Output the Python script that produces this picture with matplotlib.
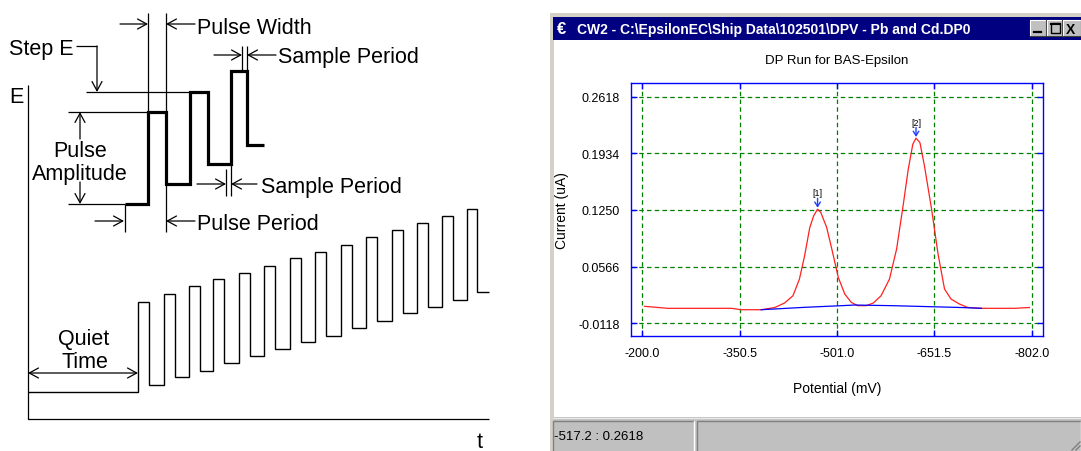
import matplotlib
matplotlib.use("Agg")
import matplotlib.pyplot as plt
from matplotlib.patches import Rectangle

plt.rcParams["font.family"] = ["Liberation Sans", "DejaVu Sans"]

# ---- left panel: DPV waveform diagram (picture units, E grows upwards = smaller y) ----
quiet_level = 393
pulse_start = [138, 164, 189, 213, 239, 264, 290, 315, 341, 366, 392, 417, 442, 467]
pulse_end = [149, 175, 200, 224, 250, 275, 301, 326, 352, 377, 403, 428, 453, 477]
pulse_high = [303, 295, 287, 280, 274, 267, 259, 253, 246, 238, 231, 224, 217, 210]
pulse_low = [386, 378, 372, 364, 357, 350, 343, 337, 329, 322, 314, 308, 301, 293]

detail_edges = [125, 148, 166, 190, 208, 231, 247, 264]
detail_levels = [205, 113, 185, 93, 165, 72, 146]

# ---- right panel: DP run data ----
potential_mv = [-204, -240, -338, -353, -384, -405, -420, -433, -443, -451, -459,
                -465, -471, -476, -485, -493, -503, -513, -523, -533, -546, -557,
                -569, -582, -593, -603, -611, -618, -623, -629, -636, -647, -657,
                -667, -677, -690, -703, -724, -775, -798]
current_ua = [0.0084, 0.0060, 0.0060, 0.0043, 0.0043, 0.0070, 0.0124, 0.0212,
              0.0414, 0.0696, 0.1039, 0.1180, 0.1260, 0.1220, 0.1040, 0.0777,
              0.0434, 0.0233, 0.0132, 0.0092, 0.0092, 0.0124, 0.0212, 0.0414,
              0.0777, 0.1300, 0.1744, 0.2046, 0.2119, 0.2066, 0.1784, 0.1260,
              0.0716, 0.0293, 0.0172, 0.0112, 0.0070, 0.0060, 0.0060, 0.0070]
base_mv = [-384, -451, -508, -528, -587, -692, -724]
base_ua = [0.0043, 0.0072, 0.0092, 0.0100, 0.0092, 0.0070, 0.0060]
peak_mv = [-471, -623]
peak_ua = [0.1262, 0.2119]
peak_labels = ["[1]", "[2]"]
x_ticks = [-200.0, -350.5, -501.0, -651.5, -802.0]
y_ticks = [0.2618, 0.1934, 0.1250, 0.0566, -0.0118]

fig = plt.figure(figsize=(10.81, 4.52), dpi=100)
bg = fig.add_axes([0, 0, 1, 1])
bg.set_xlim(0, 1081)
bg.set_ylim(452, 0)
bg.axis("off")

fs = 15.5


def arrow(tail, tip, style="->"):
    bg.annotate("", xy=tip, xytext=tail,
                arrowprops=dict(arrowstyle=f"{style},head_length=0.55,head_width=0.3",
                                lw=0.9, color="black", shrinkA=0, shrinkB=0,
                                mutation_scale=12))


def line(xs, ys, lw=0.9):
    bg.plot(xs, ys, color="black", lw=lw, solid_capstyle="butt")


# axes of the diagram
line([28, 28, 489], [86, 420, 420])
bg.text(9, 103, "E", fontsize=fs, va="baseline")
bg.text(477, 448, "t", fontsize=fs, va="baseline")

# full waveform
edges = [28]
levels = [quiet_level]
for s, e, h, lo in zip(pulse_start, pulse_end, pulse_high, pulse_low):
    edges += [s, e]
    levels += [h, lo]
edges.append(489)
bg.stairs(levels, edges, baseline=None, color="black", lw=1.0)

# detail waveform
bg.stairs(detail_levels, detail_edges, baseline=None, color="black", lw=2.3)

# extension lines
line([148, 148], [14, 113])
line([166, 166], [14, 233])
line([125, 125], [205, 233])
line([242, 242], [47, 72])
line([247, 247], [47, 72])
line([226, 226], [170, 197])
line([231, 231], [165, 197])
line([86, 190], [93, 93])
line([68, 148], [113, 113])
line([68, 125], [205, 205])

# Pulse Width
arrow((120, 25), (148, 25))
arrow((195, 25), (166, 25))
bg.text(197, 34, "Pulse Width", fontsize=fs, va="baseline")
# Step E
bg.text(9, 55, "Step E", fontsize=fs, va="baseline")
line([76, 97], [47, 47])
arrow((97, 47), (97, 93))
# Sample Period (top)
arrow((214, 56), (242, 56))
arrow((276, 56), (247, 56))
bg.text(278, 63, "Sample Period", fontsize=fs, va="baseline")
# Pulse Amplitude
arrow((80, 140), (80, 113))
arrow((80, 183), (80, 205))
bg.text(80, 157, "Pulse", fontsize=fs, va="baseline", ha="center")
bg.text(80, 180, "Amplitude", fontsize=fs, va="baseline", ha="center")
# Sample Period (bottom)
arrow((197, 185), (226, 185))
arrow((257, 185), (231, 185))
bg.text(261, 193, "Sample Period", fontsize=fs, va="baseline")
# Pulse Period
arrow((95, 222), (124, 222))
arrow((195, 222), (166, 222))
bg.text(197, 230, "Pulse Period", fontsize=fs, va="baseline")
# Quiet Time
arrow((28, 374), (138, 374), style="<->")
bg.text(84, 345, "Quiet", fontsize=fs, va="baseline", ha="center")
bg.text(85, 368, "Time", fontsize=fs, va="baseline", ha="center")

# ---- window chrome ----
gray = "#c0c0c0"
bg.add_patch(Rectangle((550, 14), 531, 438, facecolor="#d4d0c8", edgecolor="none"))
bg.add_patch(Rectangle((554, 41), 527, 377, facecolor="white", edgecolor="none"))
bg.add_patch(Rectangle((553, 18), 528, 23, facecolor="#000080", edgecolor="none"))
bg.text(557, 30, "€", color="white", fontsize=12, fontweight="bold", va="center")
bg.text(577, 30, "CW2 - C:\\EpsilonEC\\Ship Data\\102501\\DPV - Pb and Cd.DP0",
        color="white", fontsize=10, fontweight="bold", va="center")
for bx, bw in [(1030, 16), (1047, 15), (1063, 18)]:
    bg.add_patch(Rectangle((bx, 21), bw, 16, facecolor=gray, edgecolor="none"))
    bg.plot([bx, bx, bx + bw], [37, 21, 21], color="white", lw=0.8)
    bg.plot([bx, bx + bw, bx + bw], [37, 37, 21], color="#404040", lw=0.8)
bg.plot([1034, 1041], [33, 33], color="black", lw=1.6)
bg.add_patch(Rectangle((1051, 24), 9, 10, facecolor="none", edgecolor="black", lw=1.0))
bg.plot([1051, 1060], [25, 25], color="black", lw=1.5)
bg.text(1066, 29.5, "X", fontsize=10, fontweight="bold", va="center")

# status bar
bg.add_patch(Rectangle((553, 418), 528, 34, facecolor=gray, edgecolor="none"))
bg.plot([553, 1081], [419, 419], color="#e8e8e8", lw=1)
for px0, px1 in [(553, 694), (697, 1081)]:
    bg.plot([px0, px0, px1], [452, 422, 422], color="#808080", lw=1)
    bg.plot([px1 - 0.5, px1 - 0.5], [422, 452], color="white", lw=1)
bg.text(554, 437, "-517.2 : 0.2618", fontsize=9.5, va="center")
bg.plot([1072, 1080], [451, 443], color="#808080", lw=1)
bg.plot([1076, 1080], [451, 447], color="#808080", lw=1)

# ---- DP run plot ----
ax = fig.add_axes([631 / 1081, (452 - 337) / 452, 412 / 1081, 253 / 452])
ax.plot(potential_mv, current_ua, color="#ff2020", lw=0.9)
ax.plot(base_mv, base_ua, color="#0000ff", lw=0.9)
for pm, pu, lab in zip(peak_mv, peak_ua, peak_labels):
    ax.annotate("", xy=(pm, pu + 0.0015), xytext=(pm, pu + 0.013),
                arrowprops=dict(arrowstyle="->,head_length=0.4,head_width=0.25",
                                color="#2040ff", lw=1.0, shrinkA=0, shrinkB=0,
                                mutation_scale=8))
    ax.text(pm, pu + 0.0195, lab, fontsize=6.5, ha="center", va="center")

ax.set_xlim(-183, -819)
ax.set_ylim(-0.0275, 0.2787)
ax.set_xticks(x_ticks)
ax.set_xticklabels([f"{v:.1f}" for v in x_ticks])
ax.set_yticks(y_ticks)
ax.set_yticklabels([f"{v:.4f}" for v in y_ticks])
ax.grid(True, color="#008000", ls=(0, (3.6, 2.6)), lw=0.9)
for sp in ax.spines.values():
    sp.set_color("#0000ff")
    sp.set_linewidth(1.0)
ax.tick_params(direction="in", length=4.5, width=1.0, color="#0000ff",
               top=True, right=True, labelsize=9, pad=8)
ax.set_title("DP Run for BAS-Epsilon", fontsize=9.5, y=(337 - 61) / 253, pad=0, va="center")
ax.set_xlabel("Potential (mV)", fontsize=10)
ax.set_ylabel("Current (uA)", fontsize=10)
ax.xaxis.set_label_coords(0.5, (337 - 389) / 253)
ax.xaxis.label.set_va("center")
ax.yaxis.set_label_coords((562 - 631) / 412, 0.5)
ax.yaxis.label.set_va("center")

fig.savefig("out.png", dpi=100)
